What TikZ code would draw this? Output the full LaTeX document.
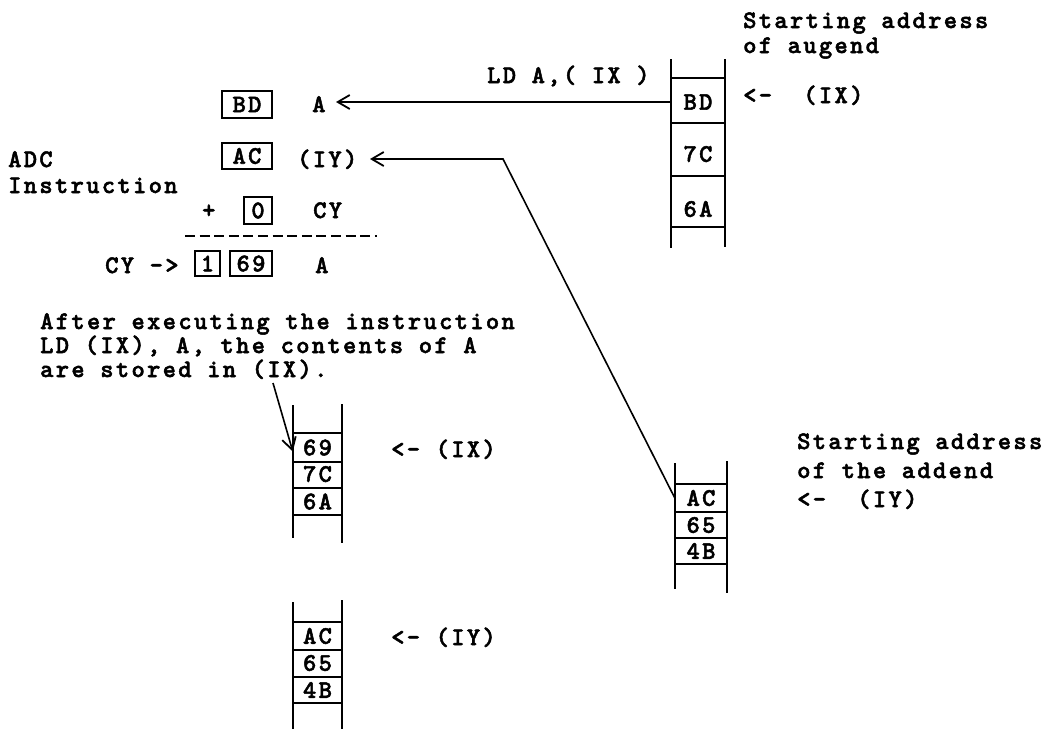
\documentclass[tikz,border=0pt]{standalone}
\usepackage{fontspec}
\usetikzlibrary{arrows.meta}
\newfontfamily\tw{lmmonolt10-bold}[Extension=.otf, LetterSpace=9.2, FakeBold=2]
\newcommand\fs{\tw\fontsize{25.3}{25.3}\selectfont}
\begin{document}
\begin{tikzpicture}[x=1pt,y=-1pt,
  lbl/.style={anchor=base west, inner sep=0pt, font=\fs},
  val/.style={draw, line width=1.9pt, inner sep=0pt, font=\fs},
  cellt/.style={inner sep=0pt, font=\fs, minimum width=#1},
  wall/.style={line width=1.8pt},
  arr/.style={line width=1.6pt, -{Straight Barb[length=12pt,width=14pt,line width=1.8pt]}}
]
\useasboundingbox (0,0) rectangle (1059,729);

% ---- top-right memory column (augend) ----
\draw[wall] (671,59) -- (671,248);
\draw[wall] (725,59) -- (725,247);
\foreach \yy in {78,123,176,227} \draw[wall] (671,\yy) -- (725,\yy);
\node[cellt=54] (bd1) at (698,102) {BD};
\node[cellt=54] (c7c1) at (698,154) {7C};
\node[cellt=54] (c6a1) at (698,209) {6A};
\node[lbl] (sa1) at (743,28) {Starting address};
\node[lbl] (sa2) at (743,53) {of augend};
\node[lbl] (ix1) at (743,103) {<-~~(IX)};
\node[lbl] (ldtxt) at (487,83) {LD A,( IX )};

% ---- arithmetic ----
\node[val, minimum width=50pt, minimum height=27pt] (vbd) at (247,104.5) {BD};
\node[lbl] (regA) at (312,112) {A};
\coordinate (tipA) at (336,102);
\node[val, minimum width=50pt, minimum height=26pt] (vac) at (247,156) {AC};
\node[lbl] (iy0) at (297,167) {(IY)};
\coordinate (tipIY) at (370,159);
\coordinate (bend) at (503,159);
\node[lbl] (adc1) at (8,167) {ADC};
\node[lbl] (adc2) at (8,193) {Instruction};
\node[lbl] (plus) at (202,218) {+};
\node[val, minimum width=28pt, minimum height=27pt] (v0) at (258,210.5) {0};
\node[lbl] (cy1) at (313,218) {CY};
\draw[line width=2.8pt, dash pattern=on 10pt off 4.6pt] (185,236) -- (377,236);
\node[lbl] (cy2) at (105,273) {CY ->};
\node[val, minimum width=25pt, minimum height=25pt] (v1) at (207.5,263.5) {1};
\node[val, minimum width=42pt, minimum height=25pt] (v69) at (251,263.5) {69};
\node[lbl] (regA2) at (315,273) {A};

% ---- note ----
\node[lbl] (n1) at (40,329) {After executing the instruction};
\node[lbl] (n2) at (40,353) {LD (IX), A, the contents of A};
\node[lbl] (n3) at (40,377) {are stored in (IX).};
\coordinate (ixsrc) at (273,383);

% ---- middle column (result) ----
\draw[wall] (293,405) -- (293,538);
\draw[wall] (342,404) -- (342,543);
\foreach \yy in {433,462,488,515} \draw[wall] (293,\yy) -- (342,\yy);
\node[cellt=49] (c69) at (317.5,447.5) {69};
\node[cellt=49] (c7c2) at (317.5,474) {7C};
\node[cellt=49] (c6a2) at (317.5,501.5) {6A};
\node[lbl] (ix2) at (391,457) {<- (IX)};

% ---- bottom column ----
\draw[wall] (293,602) -- (293,729);
\draw[wall] (342,600) -- (342,729);
\foreach \yy in {622,650,677,703} \draw[wall] (293,\yy) -- (342,\yy);
\node[cellt=49] (cac3) at (317.5,636) {AC};
\node[cellt=49] (c653) at (317.5,663) {65};
\node[cellt=49] (c4b3) at (317.5,690) {4B};
\node[lbl] (iy3) at (391,645) {<- (IY)};

% ---- right column (addend) ----
\draw[wall] (675,463) -- (675,589);
\draw[wall] (727,461) -- (727,593);
\foreach \yy in {484,512,538,564} \draw[wall] (675,\yy) -- (727,\yy);
\node[cellt=52] (acR) at (701,498) {AC};
\node[cellt=52] (c65R) at (701,525) {65};
\node[cellt=52] (c4bR) at (701,551) {4B};
\node[lbl] (sb1) at (797,449) {Starting address};
\node[lbl] (sb2) at (797,478) {of the addend};
\node[lbl] (sb3) at (797,507) {<-~~(IY)};

% ---- connectors ----
\draw[arr] (bd1.west) -- (tipA);
\draw[arr] (acR.west) -- (bend) -- (tipIY);
\draw[arr] (ixsrc) -- ([yshift=-4pt]c69.west);
\end{tikzpicture}
\end{document}
